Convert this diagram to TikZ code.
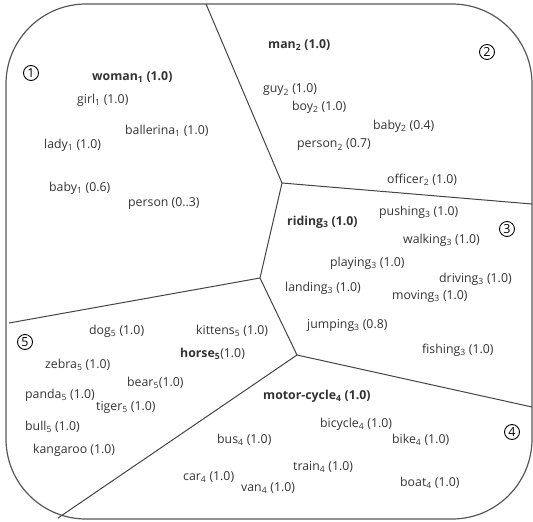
\documentclass[tikz,border=0pt]{standalone}
\usepackage{fontspec}
\setmainfont{Open Sans}
\definecolor{txt}{HTML}{333333}
\definecolor{ln}{HTML}{444444}
\tikzset{
  w/.style={anchor=west, text=txt, font=\fontsize{12.3}{14}\selectfont, inner sep=0pt},
  wb/.style={w, font=\fontsize{12.3}{14}\selectfont\bfseries},
  num/.style={circle, draw=black, line width=0.9pt, inner sep=0pt, minimum size=15pt, font=\fontsize{12.5}{14}\selectfont},
  part/.style={draw=ln, line width=1pt},
}
\newcommand{\mysub}[1]{\textsubscript{#1}}
\begin{document}
\begin{tikzpicture}[x=1pt,y=-1pt]
\useasboundingbox (0,0) rectangle (533,522);
\draw[draw=ln!90, line width=1.2pt, rounded corners=80pt] (6,4) rectangle (532,519);
% partition points
\coordinate (T) at (206,4);
\coordinate (J1) at (282,183);
\coordinate (R1) at (532,204);
\coordinate (J2) at (260,278);
\coordinate (L1) at (9,323);
\coordinate (J3) at (297,355);
\coordinate (R2) at (532,407);
\coordinate (B1) at (58,518);
\draw[part] (T) -- (J1);
\draw[part] (J1) -- (R1);
\draw[part] (J1) -- (J2);
\draw[part] (J2) -- (L1);
\draw[part] (J2) -- (J3);
\draw[part] (J3) -- (R2);
\draw[part] (J3) -- (B1);
% circled numbers
\node[num] (c1) at (31,73) {1};
\node[num] (c2) at (487,52) {2};
\node[num] (c3) at (507,229) {3};
\node[num] (c4) at (512,432) {4};
\node[num] (c5) at (25,342) {5};
% region 1
\node[wb] (woman) at (92,77) {woman\mysub{1} (1.0)};
\node[w] (girl) at (77,100) {girl\mysub{1} (1.0)};
\node[w] (ballerina) at (125,131) {ballerina\mysub{1} (1.0)};
\node[w] (lady) at (44,145) {lady\mysub{1} (1.0)};
\node[w] (baby1) at (49,188) {baby\mysub{1} (0.6)};
\node[w] (person1) at (128,204) {person (0..3)};
% region 2
\node[wb] (man) at (268,45) {man\mysub{2} (1.0)};
\node[w] (guy) at (263,90) {guy\mysub{2} (1.0)};
\node[w] (boy) at (292,107) {boy\mysub{2} (1.0)};
\node[w] (baby2) at (373,126) {baby\mysub{2} (0.4)};
\node[w] (person2) at (297,145) {person\mysub{2} (0.7)};
\node[w] (officer) at (387,180) {officer\mysub{2} (1.0)};
% region 3
\node[w] (pushing) at (379,212) {pushing\mysub{3} (1.0)};
\node[wb] (riding) at (287,222) {riding\mysub{3} (1.0)};
\node[w] (walking) at (403,240) {walking\mysub{3} (1.0)};
\node[w] (playing) at (330,263) {playing\mysub{3} (1.0)};
\node[w] (driving) at (439,279) {driving\mysub{3} (1.0)};
\node[w] (landing) at (285,288) {landing\mysub{3} (1.0)};
\node[w] (moving) at (392,296) {moving\mysub{3} (1.0)};
\node[w] (jumping) at (307,325) {jumping\mysub{3} (0.8)};
\node[w] (fishing) at (422,350) {fishing\mysub{3} (1.0)};
% region 4
\node[wb] (motor) at (263,396) {motor-cycle\mysub{4} (1.0)};
\node[w] (bicycle) at (320,424) {bicycle\mysub{4} (1.0)};
\node[w] (bus) at (217,440) {bus\mysub{4} (1.0)};
\node[w] (bike) at (392,440) {bike\mysub{4} (1.0)};
\node[w] (train) at (293,467) {train\mysub{4} (1.0)};
\node[w] (car) at (183,477) {car\mysub{4} (1.0)};
\node[w] (boat) at (400,483) {boat\mysub{4} (1.0)};
\node[w] (van) at (241,488) {van\mysub{4} (1.0)};
% region 5
\node[w] (dog) at (89,331) {dog\mysub{5} (1.0)};
\node[w] (kittens) at (196,331) {kittens\mysub{5} (1.0)};
\node[wb] (horse) at (180,354) {horse\mysub{5}\mdseries(1.0)};
\node[w] (zebra) at (45,365) {zebra\mysub{5} (1.0)};
\node[w] (bear) at (127,383) {bear\mysub{5}(1.0)};
\node[w] (panda) at (25,395) {panda\mysub{5} (1.0)};
\node[w] (tiger) at (96,407) {tiger\mysub{5} (1.0)};
\node[w] (bull) at (25,427) {bull\mysub{5} (1.0)};
\node[w] (kangaroo) at (33,450) {kangaroo (1.0)};
\end{tikzpicture}
\end{document}
